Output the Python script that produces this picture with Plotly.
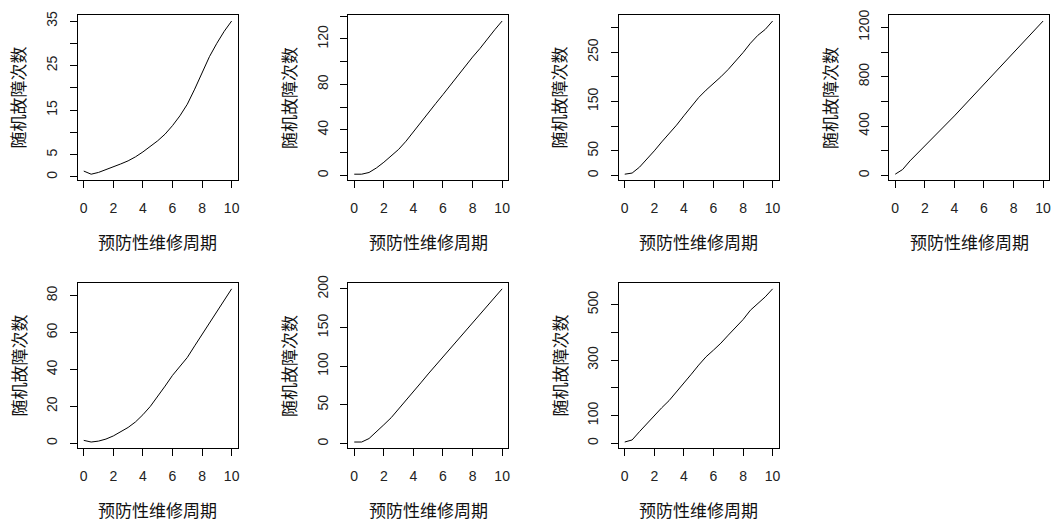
import plotly.graph_objects as go

# ---- data ----
X_PERIOD = [0, 0.5, 1, 1.5, 2, 2.5, 3, 3.5, 4, 4.5, 5, 5.5, 6, 6.5, 7, 7.5, 8, 8.5, 9, 9.5, 10]

Y_P1 = [1.3, 0.6, 1.0, 1.6, 2.3, 2.9, 3.6, 4.5, 5.6, 6.8, 8.1, 9.6, 11.5, 13.7, 16.3, 19.7, 23.2, 27.0, 30.0, 32.7, 35.0]
Y_P2 = [1, 1, 2.5, 6.5, 11.5, 17.5, 22.8, 30, 38.5, 46.5, 54.5, 63, 71, 79.5, 88, 96.5, 104, 111.5, 120, 128, 135.7]
Y_P3 = [2.7, 5, 17, 33, 50, 68, 84, 102, 121, 140, 158, 173, 186, 200, 215, 231, 249, 268, 284, 296, 313]
Y_P4 = [10, 48, 118, 178, 236, 296, 358, 420, 482, 546, 610, 672, 735, 798, 862, 926, 990, 1058, 1125, 1188, 1251]
Y_P5 = [1.6, 0.7, 1.2, 2.3, 4.0, 6.2, 8.6, 11.6, 15.5, 20, 25.3, 31, 36.8, 41.7, 46.5, 52.8, 59, 65.2, 71.4, 77.6, 83.7]
Y_P6 = [2, 2, 6.5, 15, 24.3, 33.5, 44.5, 55.5, 66.8, 78.5, 90, 101, 112, 123, 134, 146, 157, 168, 179, 189.5, 200]
Y_P7 = [4.5, 12, 42, 72, 100, 128, 154, 185, 215, 249, 282, 312, 336, 361, 390, 418, 446, 480, 505, 528, 557]

X_TICKS = [0, 2, 4, 6, 8, 10]
X_TICK_TEXT = ["0", "2", "4", "6", "8", "10"]

Y_TICKS_P1 = [0, 5, 10, 15, 20, 25, 30, 35]
Y_TEXT_P1 = ["0", "5", "", "15", "", "25", "", "35"]
Y_TICKS_P2 = [0, 20, 40, 60, 80, 100, 120, 140]
Y_TEXT_P2 = ["0", "", "40", "", "80", "", "120", ""]
Y_TICKS_P3 = [0, 50, 100, 150, 200, 250, 300]
Y_TEXT_P3 = ["0", "50", "", "150", "", "250", ""]
Y_TICKS_P4 = [0, 200, 400, 600, 800, 1000, 1200]
Y_TEXT_P4 = ["0", "", "400", "", "800", "", "1200"]
Y_TICKS_P5 = [0, 20, 40, 60, 80]
Y_TEXT_P5 = ["0", "20", "40", "60", "80"]
Y_TICKS_P6 = [0, 50, 100, 150, 200]
Y_TEXT_P6 = ["0", "50", "100", "150", "200"]
Y_TICKS_P7 = [0, 100, 200, 300, 400, 500]
Y_TEXT_P7 = ["0", "100", "", "300", "", "500"]

X_TITLE = "预防性维修周期"
Y_TITLE = "随机故障次数"

# ---- layout geometry (pixels) ----
W, H = 1060, 522
BOX_LEFTS = [78, 349, 620, 891]
BOX_W = 160
ROW_TOPS = [7, 279]
BOX_H = 168

panels = [
    (Y_P1, Y_TICKS_P1, Y_TEXT_P1, 0, 0),
    (Y_P2, Y_TICKS_P2, Y_TEXT_P2, 0, 1),
    (Y_P3, Y_TICKS_P3, Y_TEXT_P3, 0, 2),
    (Y_P4, Y_TICKS_P4, Y_TEXT_P4, 0, 3),
    (Y_P5, Y_TICKS_P5, Y_TEXT_P5, 1, 0),
    (Y_P6, Y_TICKS_P6, Y_TEXT_P6, 1, 1),
    (Y_P7, Y_TICKS_P7, Y_TEXT_P7, 1, 2),
]

TICK_FONT = dict(family="Liberation Sans, Arial, sans-serif", size=14, color="#222222")
TITLE_FONT = dict(family="Noto Sans CJK SC, sans-serif", size=17, color="#111111")

fig = go.Figure()
layout = dict(
    width=W, height=H,
    margin=dict(l=0, r=0, t=0, b=0),
    paper_bgcolor="white", plot_bgcolor="white",
    showlegend=False, hovermode=False,
)
annotations = []

xmin, xmax = min(X_PERIOD), max(X_PERIOD)
xpad = 0.04 * (xmax - xmin)

for i, (ys, yt, ytt, row, col) in enumerate(panels, start=1):
    suffix = "" if i == 1 else str(i)
    left = BOX_LEFTS[col]
    top = ROW_TOPS[row]
    x0, x1 = left / W, (left + BOX_W) / W
    y1 = 1 - top / H
    y0 = 1 - (top + BOX_H) / H

    fig.add_trace(go.Scatter(
        x=X_PERIOD, y=ys, mode="lines",
        line=dict(color="black", width=1),
        xaxis="x" + suffix, yaxis="y" + suffix,
    ))

    ymin, ymax = min(ys), max(ys)
    ypad = 0.04 * (ymax - ymin)

    common = dict(
        showline=True, mirror=True, linecolor="black", linewidth=1,
        ticks="outside", ticklen=7, tickwidth=1, tickcolor="black",
        showgrid=False, zeroline=False, tickfont=TICK_FONT,
        fixedrange=True,
    )
    layout["xaxis" + suffix] = dict(
        domain=[x0, x1], anchor="y" + suffix,
        range=[xmin - xpad, xmax + xpad],
        tickmode="array", tickvals=X_TICKS, ticktext=X_TICK_TEXT,
        ticklabelstandoff=8,
        **common,
    )
    layout["yaxis" + suffix] = dict(
        domain=[y0, y1], anchor="x" + suffix,
        range=[ymin - ypad, ymax + ypad],
        tickmode="array", tickvals=yt, ticktext=ytt,
        tickangle=-90, ticklabelstandoff=7,
        **common,
    )

    annotations.append(dict(
        text=X_TITLE, xref="paper", yref="paper",
        x=(x0 + x1) / 2, y=1 - (top + BOX_H + 62) / H,
        showarrow=False, font=TITLE_FONT, xanchor="center", yanchor="middle",
        borderpad=0,
    ))
    annotations.append(dict(
        text=Y_TITLE, xref="paper", yref="paper",
        x=(left - 60) / W, y=(y0 + y1) / 2, textangle=-90,
        showarrow=False, font=TITLE_FONT, xanchor="center", yanchor="middle",
        borderpad=0,
    ))

layout["annotations"] = annotations
fig.update_layout(**layout)
fig.write_html(
    "out.html",
    config={"displayModeBar": False, "staticPlot": True},
    post_script=(
        "document.body.style.margin='0';document.body.style.padding='0';"
        "var d=document.getElementById('{plot_id}');"
        "d.style.position='absolute';d.style.top='0px';d.style.left='0px';"
    ),
)
